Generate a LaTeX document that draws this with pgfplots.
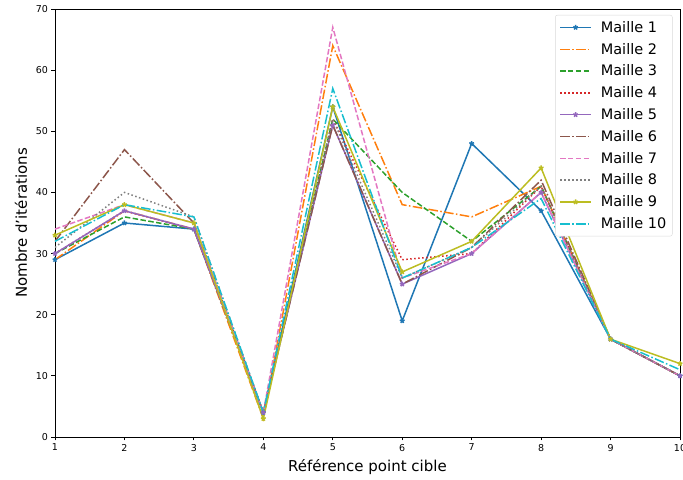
\documentclass[border=0pt]{standalone}
\usepackage{pgfplots}
\pgfplotsset{compat=1.18}
\usepackage{fontspec}
\setmainfont{DejaVu Sans}
\definecolor{tabblue}{HTML}{1F77B4}
\definecolor{taborange}{HTML}{FF7F0E}
\definecolor{tabgreen}{HTML}{2CA02C}
\definecolor{tabred}{HTML}{D62728}
\definecolor{tabpurple}{HTML}{9467BD}
\definecolor{tabbrown}{HTML}{8C564B}
\definecolor{tabpink}{HTML}{E377C2}
\definecolor{tabgray}{HTML}{7F7F7F}
\definecolor{tabolive}{HTML}{BCBD22}
\definecolor{tabcyan}{HTML}{17BECF}
\pgfplotstableread{
x m1 m2 m3 m4 m5 m6 m7 m8 m9 m10
1 29 29 30 30 30 32 34 31 33 32
2 35 37 36 37 37 47 38 40 38 38
3 34 34 34 34 34 35 35 36 35 36
4 4 3 4 4 4 4 4 4 3 4
5 54 64 52 52 51 51 67 52 54 57
6 19 38 40 29 25 25 26 26 27 26
7 48 36 32 30 30 31 30 31 32 31
8 37 41 41 41 40 42 40 41 44 39
9 16 16 16 16 16 16 16 16 16 16
10 10 10 10 10 10 10 10 10 12 11
}\data
\tikzset{
  mdashdot/.style={dash pattern=on 9.6pt off 2.4pt on 1.5pt off 2.4pt},
  mdashed/.style={dash pattern=on 5.5pt off 2.4pt},
  mdotted/.style={dash pattern=on 1.5pt off 2.5pt},
  ser/.style={draw=#1, color=#1, line width=1.5pt},
}
\begin{document}
\begin{tikzpicture}
\begin{axis}[
  name=ax,
  scale only axis,
  width=625pt, height=428pt,
  xmin=1, xmax=10, ymin=0, ymax=70,
  xtick={1,...,10}, ytick={0,10,...,70},
  tick align=outside, tick pos=left,
  major tick length=3.5pt,
  tick style={black, line width=0.8pt},
  axis line style={line width=0.8pt},
  /pgf/number format/assume math mode=true,
  ticklabel style={font=\fontsize{9.5}{11}\selectfont},
  xlabel={Référence point cible},
  ylabel={Nombre d'itérations},
  label style={font=\fontsize{15}{18}\selectfont},
  xlabel style={yshift=-1pt},
  ylabel style={yshift=2pt},
  legend cell align=left,
  legend style={at={(0.988,0.986)}, anchor=north east, draw=gray!30, rounded corners=2pt,
    font=\fontsize{14.5}{17}\selectfont, row sep=5.3pt, inner sep=4pt,
    /tikz/every odd column/.append style={column sep=7pt}},
  legend image code/.code={\draw[sharp corners,mark repeat=2,mark phase=2,#1] plot coordinates {(0pt,0pt) (15.5pt,0pt) (31pt,0pt)};},
]
\addplot[ser=tabblue, mark=star, mark size=2.5pt, mark options={solid}] table[x=x,y=m1]{\data};
\addlegendentry{Maille 1}
\addplot[ser=taborange, mdashdot] table[x=x,y=m2]{\data};
\addlegendentry{Maille 2}
\addplot[ser=tabgreen, mdashed] table[x=x,y=m3]{\data};
\addlegendentry{Maille 3}
\addplot[ser=tabred, mdotted] table[x=x,y=m4]{\data};
\addlegendentry{Maille 4}
\addplot[ser=tabpurple, mark=star, mark size=2.5pt, mark options={solid}] table[x=x,y=m5]{\data};
\addlegendentry{Maille 5}
\addplot[ser=tabbrown, mdashdot] table[x=x,y=m6]{\data};
\addlegendentry{Maille 6}
\addplot[ser=tabpink, mdashed] table[x=x,y=m7]{\data};
\addlegendentry{Maille 7}
\addplot[ser=tabgray, mdotted] table[x=x,y=m8]{\data};
\addlegendentry{Maille 8}
\addplot[ser=tabolive, mark=star, mark size=2.5pt, mark options={solid}] table[x=x,y=m9]{\data};
\addlegendentry{Maille 9}
\addplot[ser=tabcyan, mdashdot] table[x=x,y=m10]{\data};
\addlegendentry{Maille 10}
\end{axis}
\pgfresetboundingbox
\path[use as bounding box] ([shift={(-55pt,-43pt)}]ax.south west) rectangle ([shift={(3pt,9pt)}]ax.north east);
\end{tikzpicture}
\end{document}
